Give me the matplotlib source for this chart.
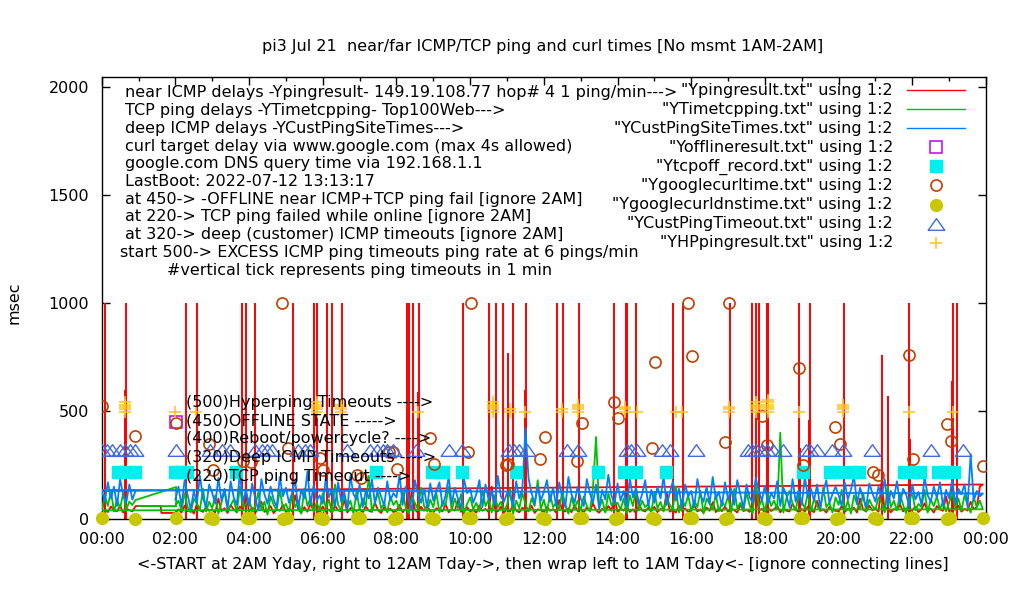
import numpy as np
import matplotlib
matplotlib.use("Agg")
import matplotlib.pyplot as plt
from matplotlib.path import Path

# ============================================================
# COLOURS (gnuplot legacy palette)
# ============================================================
RED = "#ff0000"
GREEN = "#00c000"
BLUE = "#0080ff"
PURPLE = "#c000ff"
CYAN = "#00eeee"
BROWN = "#c04000"
YELLOW = "#c8c800"
ROYAL = "#4169e1"
GOLD = "#ffc020"

# ============================================================
# DATA  (hours of day, msec)
# ============================================================
STEP_H = 5 / 60.0          # sampling grid of the delay logs (5 min)
MAIN_START = 2.0           # yesterday 02:00 -> 24:00
WRAP_START = 0.0           # then wraps to 00:00 -> 00:55

red_main = [
    28, 45, 30, 62, 35, 48, 25, 70, 40, 33, 55, 38,
    42, 30, 95, 36, 50, 28, 65, 44, 31, 58, 40, 120,
    35, 52, 29, 47, 80, 33, 41, 60, 27, 45, 38, 66,
    30, 48, 36, 110, 42, 29, 55, 34, 70, 39, 46, 31,
    58, 33, 44, 27, 62, 40, 35, 90, 30, 51, 43, 37,
    45, 29, 60, 38, 33, 75, 41, 28, 54, 36, 48, 32,
    40, 66, 31, 47, 35, 130, 43, 30, 57, 38, 62, 34,
    29, 50, 42, 35, 68, 31, 46, 39, 85, 33, 44, 55,
    36, 41, 29, 63, 38, 47, 32, 150, 40, 35, 58, 30,
    48, 34, 70, 39, 31, 52, 44, 36, 61, 28, 45, 40,
    33, 57, 38, 46, 30, 88, 42, 35, 50, 31, 64, 37,
    44, 30, 55, 36, 72, 41, 29, 48, 34, 60, 38, 100,
    31, 46, 39, 58, 33, 45, 27, 66, 40, 35, 52, 43,
    56, 32, 47, 38, 125, 34, 42, 30, 61, 37, 49, 33,
    40, 63, 35, 44, 29, 53, 38, 78, 32, 46, 36, 58,
    34, 48, 41, 30, 67, 36, 44, 33, 55, 140, 39, 47,
    30, 52, 37, 45, 62, 31, 49, 38, 35, 71, 42, 33,
    46, 35, 58, 40, 32, 84, 37, 45, 30, 56, 41, 38,
    36, 60, 33, 47, 39, 52, 30, 95, 43, 35, 62, 40,
    48, 34, 170, 38, 55, 31, 46, 42, 66, 35, 50, 37,
    41, 57, 32, 45, 73, 36, 49, 30, 60, 44, 38, 105,
    35, 50, 43, 62, 34, 47, 39, 80, 45, 55, 150, 160,
]
red_wrap = [130, 45, 32, 58, 40, 36, 62, 30, 48, 41, 35, 60]
red_gap_h = [0.92, 1.60, 1.62, 2.0]
red_gap_v = [60, 60, 28, 28]

green_main = [
    60, 85, 40, 120, 55, 30, 95, 70, 45, 140, 35, 80,
    50, 110, 25, 75, 130, 40, 65, 90, 30, 150, 55, 70,
    95, 35, 60, 125, 45, 80, 20, 105, 65, 40, 135, 50,
    70, 30, 115, 55, 85, 25, 140, 60, 100, 35, 75, 45,
    120, 50, 90, 30, 160, 65, 40, 110, 55, 85, 25, 130,
    45, 95, 60, 200, 35, 80, 120, 50, 70, 30, 105, 65,
    85, 40, 130, 55, 25, 100, 75, 45, 145, 60, 35, 90,
    55, 120, 30, 80, 65, 150, 40, 95, 50, 115, 25, 70,
    100, 45, 75, 35, 135, 60, 90, 30, 110, 55, 80, 40,
    65, 140, 25, 85, 50, 120, 70, 35, 95, 60, 180, 45,
    90, 30, 115, 55, 75, 40, 130, 65, 25, 100, 50, 85,
    40, 105, 60, 35, 145, 380, 50, 90, 30, 120, 65, 70,
    75, 45, 95, 25, 110, 60, 135, 40, 85, 55, 70, 30,
    125, 50, 80, 35, 100, 65, 45, 150, 30, 90, 60, 110,
    40, 85, 55, 130, 25, 95, 70, 45, 115, 35, 80, 60,
    105, 30, 140, 50, 75, 40, 120, 65, 25, 175, 55, 90,
    35, 115, 60, 85, 45, 400, 30, 95, 130, 70, 40, 110,
    80, 50, 125, 35, 95, 60, 40, 145, 55, 75, 30, 100,
    65, 135, 40, 85, 25, 110, 70, 50, 120, 35, 90, 60,
    45, 100, 75, 30, 150, 55, 85, 40, 115, 65, 25, 95,
    120, 40, 70, 55, 135, 30, 90, 60, 105, 45, 80, 35,
    75, 125, 50, 95, 40, 110, 65, 30, 100, 55, 85, 45,
]
green_wrap = [40, 110, 60, 130, 35, 90, 50, 120, 45, 80, 65, 88]
green_gap_h = [0.92, 2.02, 2.02, 1.0]
green_gap_v = [88, 148, 60, 60]

blue_main = [
    90, 150, 60, 180, 110, 45, 130, 75, 200, 95, 55, 160,
    120, 70, 190, 85, 140, 50, 175, 100, 65, 210, 80, 135,
    60, 165, 95, 40, 185, 115, 70, 150, 90, 55, 195, 105,
    145, 75, 120, 180, 50, 135, 95, 220, 65, 155, 85, 110,
    70, 190, 100, 140, 60, 170, 80, 125, 45, 200, 115, 90,
    160, 55, 130, 95, 185, 70, 145, 105, 60, 175, 85, 120,
    100, 205, 65, 150, 90, 40, 180, 115, 75, 140, 55, 165,
    85, 130, 170, 60, 110, 195, 70, 145, 95, 50, 185, 120,
    140, 75, 115, 180, 55, 160, 90, 125, 65, 200, 105, 80,
    120, 110, 60, 175, 95, 140, 420, 190, 120, 70, 155, 85,
    125, 180, 80, 145, 60, 170, 100, 55, 195, 115, 75, 150,
    95, 60, 185, 120, 75, 160, 50, 135, 90, 205, 110, 70,
    165, 85, 130, 55, 190, 100, 145, 70, 115, 180, 60, 135,
    75, 150, 95, 200, 65, 120, 175, 85, 140, 50, 160, 105,
    130, 55, 185, 110, 80, 150, 70, 195, 95, 125, 60, 170,
    90, 140, 65, 180, 115, 50, 160, 100, 75, 190, 130, 85,
    155, 70, 120, 95, 175, 60, 145, 110, 55, 185, 80, 135,
    65, 195, 100, 140, 85, 160, 50, 125, 180, 75, 115, 150,
    110, 60, 170, 90, 135, 200, 70, 145, 95, 55, 165, 120,
    80, 150, 105, 185, 60, 130, 95, 175, 70, 140, 115, 55,
    160, 90, 125, 65, 195, 110, 80, 150, 100, 170, 60, 135,
    95, 180, 70, 140, 115, 160, 55, 300, 85, 130, 105, 118,
]
blue_wrap = [135, 80, 170, 95, 150, 60, 185, 110, 75, 160, 90, 130]

# near ICMP timeouts drawn as tall spikes of the red series
spike_hours = [
    0.09, 0.64, 0.66, 2.28, 2.58, 3.80, 3.92, 4.16, 5.19, 5.76, 5.83, 6.11,
    6.24, 6.53, 8.28, 8.35, 8.46, 8.59, 8.62, 9.81, 10.52, 10.70, 10.88,
    11.02, 11.15, 11.50, 11.51, 12.35, 12.53, 12.96, 13.91, 14.22, 14.26,
    14.50, 15.51, 15.78, 17.05, 17.64, 17.66, 17.77, 17.84, 18.06, 18.09,
    18.93, 18.95, 19.20, 19.22, 20.15, 21.18, 21.35, 21.92, 21.94, 23.09,
    23.11, 23.22,
]
spike_heights = [
    1000, 600, 1000, 1000, 1000, 1000, 1000, 1000, 1000, 1000, 1000, 1000,
    1000, 1000, 1000, 1000, 1000, 590, 1000, 1000, 1000, 1000, 1000,
    770, 1000, 600, 1000, 1000, 1000, 1000, 1000, 1000, 1000,
    1000, 1000, 1000, 1000, 560, 1000, 1000, 1000, 1000, 1000,
    1000, 330, 460, 1000, 1000, 760, 570, 1000, 370, 640,
    1000, 1000,
]

offline_hours = [2.02]
offline_values = [450]

tcpoff_hours = [
    0.44, 0.66, 0.91, 2.00, 2.15, 2.31, 3.65, 7.45, 8.97, 9.25, 9.79, 11.25,
    13.47, 14.18, 14.49, 15.32, 19.03, 19.77, 20.03, 20.33, 20.54, 21.78,
    22.02, 22.22, 22.70, 22.91, 23.12,
]
tcpoff_values = [220] * len(tcpoff_hours)

curl_hours = [
    0.02, 0.90, 2.02, 2.91, 3.03, 3.84, 4.05, 4.89, 5.05, 5.92, 6.01, 6.92,
    7.03, 7.80, 7.91, 8.02, 8.91, 9.03, 9.93, 10.03, 10.96, 11.03, 11.89,
    12.03, 12.91, 13.04, 13.91, 14.00, 14.93, 15.01, 15.92, 16.03, 16.91,
    17.03, 17.91, 18.05, 18.93, 19.04, 19.90, 20.05, 20.92, 21.06, 21.92,
    22.02, 22.93, 23.04, 23.92,
]
curl_values = [
    522, 386, 445, 346, 225, 267, 265, 1000, 328, 281, 225, 202,
    188, 312, 309, 234, 377, 253, 309, 1000, 248, 253, 278,
    382, 267, 445, 541, 468, 328, 728, 1000, 754, 357,
    1000, 476, 341, 699, 248, 425, 348, 218, 202, 758,
    278, 442, 361, 246,
]

dns_hours = [
    0.02, 0.90, 2.03, 2.95, 3.03, 3.93, 4.02, 4.93, 5.02, 5.92, 6.00, 6.93,
    7.01, 7.93, 8.01, 8.94, 9.02, 9.94, 10.03, 10.95, 11.03, 11.94, 12.02,
    12.95, 13.03, 13.93, 14.01, 14.94, 15.02, 15.94, 16.02, 16.93, 17.01,
    17.94, 18.02, 18.95, 19.03, 19.94, 20.02, 20.95, 21.03, 21.93, 22.01,
    22.94, 23.02, 23.92,
]
dns_values = [
    3, 2, 4, 3, 2, 3, 4, 2, 3, 3, 2, 4,
    3, 2, 3, 4, 2, 3, 3, 2, 4, 3, 2,
    3, 4, 2, 3, 3, 2, 4, 3, 2, 3,
    4, 2, 3, 3, 2, 4, 3, 2, 3, 4,
    2, 3, 3,
]

cust_timeout_hours = [
    0.00, 0.14, 0.28, 0.50, 0.63, 0.77, 0.90, 2.02, 2.94, 3.26, 3.48, 4.16,
    4.34, 4.48, 4.61, 5.34, 5.52, 5.65, 6.65, 7.28, 7.46, 7.64, 7.73, 7.91,
    8.53, 9.42, 9.77, 11.05, 11.19, 11.32, 11.53, 12.63, 12.93, 14.25, 14.36,
    14.52, 15.20, 15.42, 16.12, 17.55, 17.64, 17.77, 17.91, 18.06, 18.21,
    18.50, 19.11, 19.22, 19.40, 19.81, 20.12, 20.90, 22.52, 23.38,
]
cust_timeout_values = [320] * len(cust_timeout_hours)

hp_hours = [
    0.63, 0.63, 0.63, 0.63, 0.63, 1.99, 2.56,
    5.83, 5.83, 5.83, 5.83, 5.83, 6.49, 6.49, 6.49, 6.49,
    8.59, 10.63, 10.63, 10.63, 10.63, 10.63, 11.08, 11.08, 11.49,
    12.48, 12.48, 12.93, 12.93, 12.93, 12.93, 14.20, 14.20, 14.20,
    14.52, 15.58, 15.74, 17.03, 17.03, 17.03,
    17.77, 17.77, 17.77, 17.77, 17.77, 18.09, 18.09, 18.09, 18.09, 18.09, 18.09,
    18.93, 20.12, 20.12, 20.12, 20.12, 21.92, 23.11,
]
hp_values = [
    497, 509, 518, 528, 540, 497, 497,
    497, 509, 518, 528, 540, 497, 509, 518, 528,
    497, 497, 509, 518, 528, 540, 497, 509, 497,
    497, 509, 497, 509, 518, 528, 497, 509, 518,
    497, 497, 497, 497, 509, 518,
    497, 509, 518, 528, 540, 497, 509, 518, 528, 540, 550,
    497, 497, 509, 518, 528, 497, 497,
]

x_tick_hours = [0, 2, 4, 6, 8, 10, 12, 14, 16, 18, 20, 22, 24]
x_tick_labels = ["00:00", "02:00", "04:00", "06:00", "08:00", "10:00", "12:00",
                 "14:00", "16:00", "18:00", "20:00", "22:00", "00:00"]
y_ticks = [0, 500, 1000, 1500, 2000]

title = "pi3 Jul 21  near/far ICMP/TCP ping and curl times [No msmt 1AM-2AM]"
xlabel = "<-START at 2AM Yday, right to 12AM Tday->, then wrap left to 1AM Tday<- [ignore connecting lines]"
ylabel = "msec"

info_lines = [
    "near ICMP delays -Ypingresult- 149.19.108.77 hop# 4 1 ping/min--->",
    "TCP ping delays -YTimetcpping- Top100Web--->",
    "deep ICMP delays -YCustPingSiteTimes--->",
    "curl target delay via www.google.com (max 4s allowed)",
    "google.com DNS query time via 192.168.1.1",
    "LastBoot: 2022-07-12 13:13:17",
    "at 450-> -OFFLINE near ICMP+TCP ping fail [ignore 2AM]",
    "at 220-> TCP ping failed while online [ignore 2AM]",
    "at 320-> deep (customer) ICMP timeouts [ignore 2AM]",
    "start 500-> EXCESS ICMP ping timeouts ping rate at 6 pings/min",
    "#vertical tick represents ping timeouts in 1 min",
]
level_lines = [
    "(500)Hyperping Timeouts ---->",
    "(450)OFFLINE STATE ----->",
    "(400)Reboot/powercycle? ---->",
    "(320)Deep ICMP Timeouts ---->",
    "(220)TCP ping Timeout ---->",
]
key_labels = [
    '"Ypingresult.txt" using 1:2',
    '"YTimetcpping.txt" using 1:2',
    '"YCustPingSiteTimes.txt" using 1:2',
    '"Yofflineresult.txt" using 1:2',
    '"Ytcpoff_record.txt" using 1:2',
    '"Ygooglecurltime.txt" using 1:2',
    '"Ygooglecurldnstime.txt" using 1:2',
    '"YCustPingTimeout.txt" using 1:2',
    '"YHPpingresult.txt" using 1:2',
]

# ============================================================
# BUILD SERIES IN FILE ORDER (02:00..24:00 then wrap 00:00..00:55)
# ============================================================
def series(main, wrap, gap_h=(), gap_v=()):
    h = [MAIN_START + i * STEP_H for i in range(len(main))]
    h += [WRAP_START + i * STEP_H for i in range(len(wrap))]
    return np.array(h + list(gap_h)), np.array(list(main) + list(wrap) + list(gap_v))

red_h, red_v = series(red_main, red_wrap, red_gap_h, red_gap_v)
green_h, green_v = series(green_main, green_wrap, green_gap_h, green_gap_v)
blue_h, blue_v = series(blue_main, blue_wrap)

# ============================================================
# FIGURE
# ============================================================
W, H = 1020, 600
FS = 11.5
plt.rcParams["font.family"] = ["DejaVu Sans"]

fig = plt.figure(figsize=(W / 100, H / 100), dpi=100)
ax = fig.add_axes([101.7 / W, 1 - 519 / H, (986 - 101.7) / W, (519 - 76.7) / H])

ax.plot(red_h, red_v, color=RED, lw=1.3, zorder=2)
ax.vlines(spike_hours, 0, spike_heights, color=RED, lw=1.4, zorder=2)
ax.plot(green_h, green_v, color=GREEN, lw=1.3, zorder=3)
ax.plot(blue_h, blue_v, color=BLUE, lw=1.3, zorder=4)

ax.plot(offline_hours, offline_values, ls="none", marker="s", ms=8.5,
        mfc="none", mec=PURPLE, mew=1.1, zorder=5)
ax.plot(tcpoff_hours, tcpoff_values, ls="none", marker="s", ms=9.3,
        mfc=CYAN, mec=CYAN, zorder=5)
ax.plot(curl_hours, curl_values, ls="none", marker="o", ms=8.0,
        mfc="none", mec=BROWN, mew=1.2, zorder=6)
ax.plot(dns_hours, dns_values, ls="none", marker="o", ms=8.5,
        mfc=YELLOW, mec=YELLOW, zorder=6, clip_on=False)

tri = Path([(-1, -0.7), (1, -0.7), (0, 0.7), (-1, -0.7)],
           [Path.MOVETO, Path.LINETO, Path.LINETO, Path.CLOSEPOLY])
ax.plot(cust_timeout_hours, cust_timeout_values, ls="none", marker=tri, ms=12,
        mfc="none", mec=ROYAL, mew=1.0, zorder=7)
ax.plot(hp_hours, hp_values, ls="none", marker="+", ms=8.5,
        mec=GOLD, mew=1.1, zorder=7)

ax.set_xlim(0, 24)
ax.set_ylim(0, 2050)
ax.set_xticks(x_tick_hours)
ax.set_xticklabels(x_tick_labels)
ax.set_xticks(range(0, 25), minor=True)
ax.set_yticks(y_ticks)
ax.tick_params(axis="both", which="major", direction="in", length=6, width=1,
               top=True, right=True, labelsize=FS, pad=9)
ax.tick_params(axis="x", which="minor", direction="in", length=3, width=1,
               top=True, bottom=True)
for sp in ax.spines.values():
    sp.set_linewidth(1.0)

# ============================================================
# TEXTS
# ============================================================
def px(x, y):
    return x / W, 1 - y / H

fig.text(*px(543, 46), title, ha="center", va="center", fontsize=FS)
fig.text(*px(543, 565), xlabel, ha="center", va="center", fontsize=FS)
fig.text(*px(14, 303), ylabel, ha="center", va="center", rotation=90, fontsize=FS)

info_x = [125] * 9 + [120, 167]
for i, line in enumerate(info_lines):
    fig.text(*px(info_x[i], 93 + i * 17.7), line, ha="left", va="center",
             fontsize=FS, zorder=10)

for i, line in enumerate(level_lines):
    fig.text(*px(186, 402 + i * 18.5), line, ha="left", va="center",
             fontsize=FS, zorder=10)

# key (right aligned, sample to the right)
key_styles = [
    dict(kind="line", color=RED),
    dict(kind="line", color=GREEN),
    dict(kind="line", color=BLUE),
    dict(kind="mark", marker="s", ms=8.5, mfc="none", mec=PURPLE, mew=1.1),
    dict(kind="mark", marker="s", ms=9.3, mfc=CYAN, mec=CYAN, mew=1.0),
    dict(kind="mark", marker="o", ms=8.0, mfc="none", mec=BROWN, mew=1.2),
    dict(kind="mark", marker="o", ms=8.5, mfc=YELLOW, mec=YELLOW, mew=1.0),
    dict(kind="mark", marker=tri, ms=12, mfc="none", mec=ROYAL, mew=1.0),
    dict(kind="mark", marker="+", ms=8.5, mfc="none", mec=GOLD, mew=1.1),
]
for i, (lab, st) in enumerate(zip(key_labels, key_styles)):
    y = 90 + i * 19.1
    fig.text(*px(893, y), lab, ha="right", va="center", fontsize=FS)
    yy = 1 - y / H
    if st["kind"] == "line":
        fig.add_artist(plt.Line2D([907 / W, 965 / W], [yy, yy], color=st["color"], lw=1.0))
    else:
        fig.add_artist(plt.Line2D([936 / W], [yy], ls="none", marker=st["marker"],
                                  ms=st["ms"], mfc=st["mfc"], mec=st["mec"], mew=st["mew"]))

fig.savefig("out.png", dpi=100)
